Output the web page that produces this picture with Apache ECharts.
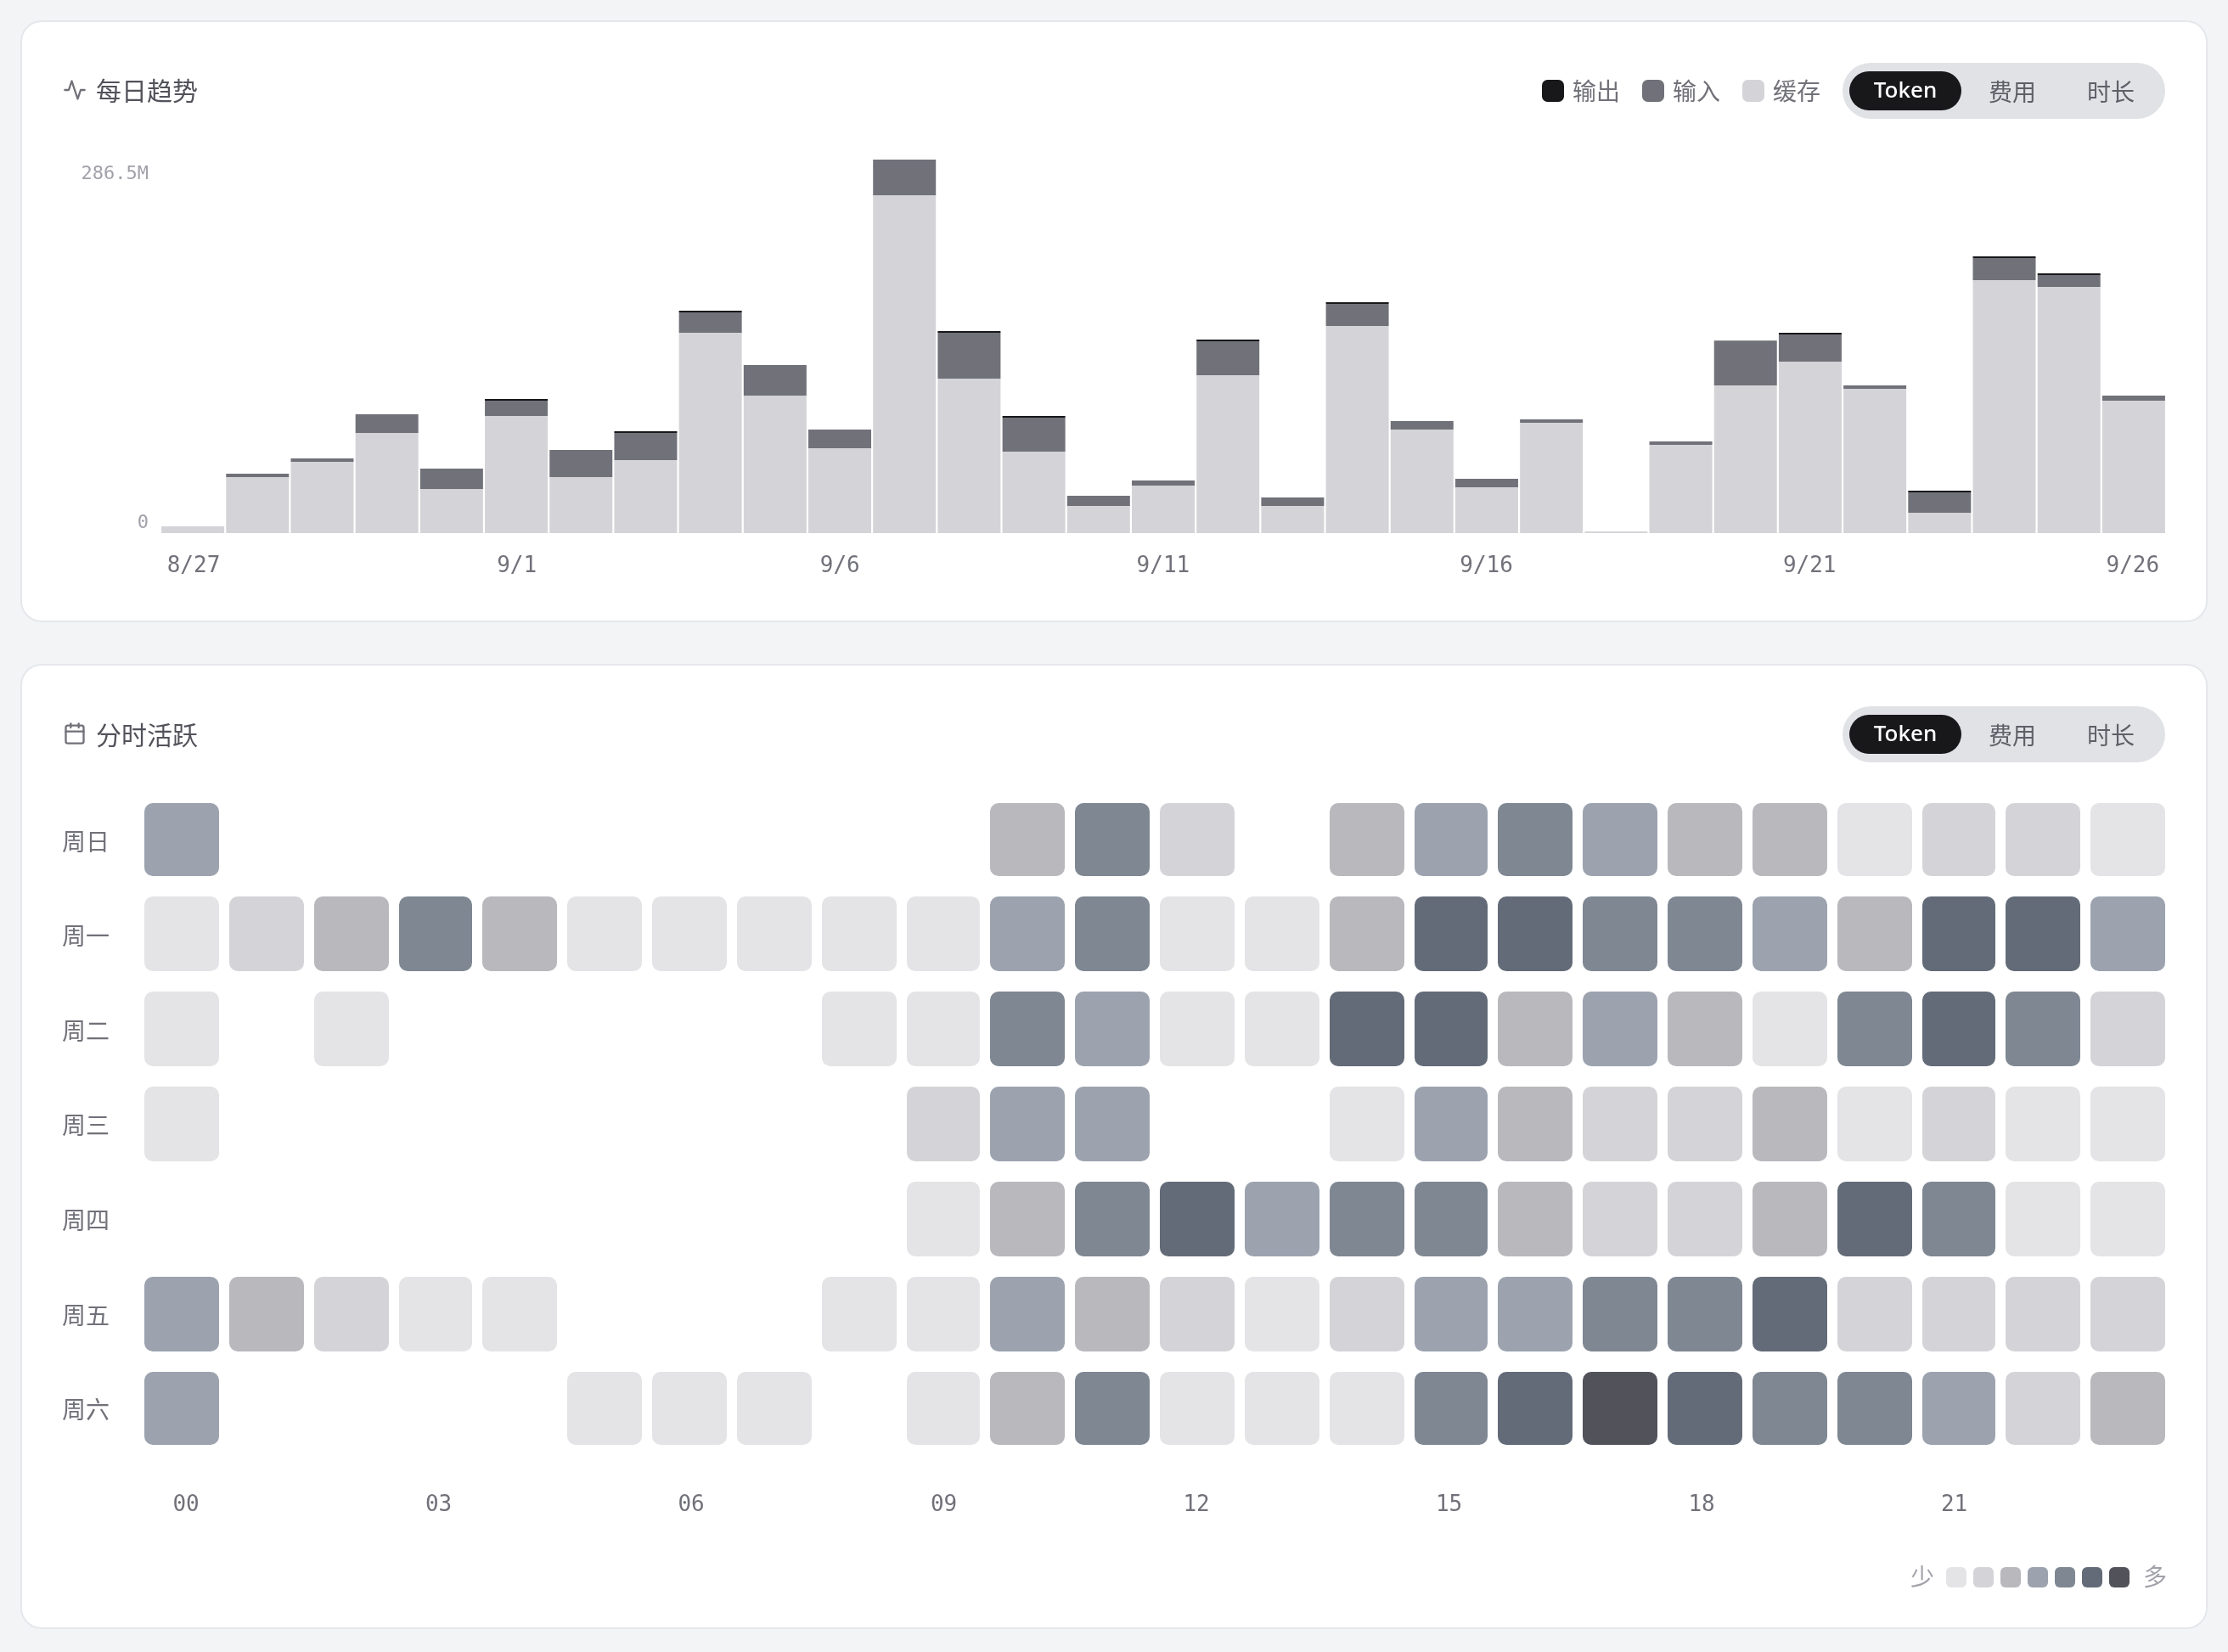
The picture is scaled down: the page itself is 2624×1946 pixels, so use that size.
<!DOCTYPE html>
<html><head><meta charset="utf-8">
<style>html,body{margin:0;padding:0;background:#f3f4f6}#c{width:2624px;height:1946px}</style>
<script src="https://cdn.jsdelivr.net/npm/echarts@6/dist/echarts.min.js"></script>
</head><body><div id="c"></div>
<script>
const dates = ['8/27','8/28','8/29','8/30','8/31','9/1','9/2','9/3','9/4','9/5','9/6','9/7','9/8','9/9','9/10','9/11','9/12','9/13','9/14','9/15','9/16','9/17','9/18','9/19','9/20','9/21','9/22','9/23','9/24','9/25','9/26'];
const cacheM  = [5.2,43.0,54.7,76.8,33.9,89.9,43.0,56.0,153.7,105.5,65.1,259.2,118.5,62.5,20.8,36.5,121.1,20.8,158.9,79.4,35.2,84.6,1.3,67.7,113.3,131.5,110.7,15.6,194.0,188.8,101.6];
const inputM  = [0,2.6,2.6,14.3,15.6,11.7,20.8,20.8,15.6,23.4,14.3,27.3,35.2,26.0,7.8,3.9,26.0,6.5,16.9,6.5,6.5,2.6,0,2.6,33.9,20.8,2.6,15.6,16.9,9.1,3.9];
const outputM = [0,0,0,0,0,1.3,0,1.3,1.3,0,0,0,1.3,1.3,0,0,1.3,0,1.3,0,0,0,0,0,0.3,1.3,0,1.3,1.3,1.3,0];
const yMaxM = 286.5;

const hours = ['00','01','02','03','04','05','06','07','08','09','10','11','12','13','14','15','16','17','18','19','20','21','22','23'];
const days = ['周日','周一','周二','周三','周四','周五','周六'];
const sun = [4,0,0,0,0,0,0,0,0,0,3,5,2,0,3,4,5,4,3,3,1,2,2,1];
const mon = [1,2,3,5,3,1,1,1,1,1,4,5,1,1,3,6,6,5,5,4,3,6,6,4];
const tue = [1,0,1,0,0,0,0,0,1,1,5,4,1,1,6,6,3,4,3,1,5,6,5,2];
const wed = [1,0,0,0,0,0,0,0,0,2,4,4,0,0,1,4,3,2,2,3,1,2,1,1];
const thu = [0,0,0,0,0,0,0,0,0,1,3,5,6,4,5,5,3,2,2,3,6,5,1,1];
const fri = [4,3,2,1,1,0,0,0,1,1,4,3,2,1,2,4,4,5,5,6,2,2,2,2];
const sat = [4,0,0,0,0,1,1,1,0,1,3,5,1,1,1,5,6,7,6,5,5,4,2,3];
const levelColors = ['#e4e4e7','#d4d4d8','#b8b8bd','#9ca3af','#7e8792','#636b78','#52525b'];

const MONO = '"DejaVu Sans Mono", monospace';
const CJK = '"Noto Sans CJK SC", sans-serif';
const heatRows = [sun,mon,tue,wed,thu,fri,sat];
const heatData = [];
heatRows.forEach((row,d)=>row.forEach((v,h)=>{ if(v>0) heatData.push([h,d,v]); }));

function card(y,h){
  return {type:'rect',z:-10,silent:true,shape:{x:25,y:y,width:2574,height:h,r:24},style:{fill:'#fff',stroke:'#e5e7eb',lineWidth:2}};
}
function toggle(dy){
  const t=(text,x,y)=>({type:'text',z:10,silent:true,style:{text,x,y:y+dy,fill:'#5f5f68',font:'28px '+CJK,textAlign:'center',textVerticalAlign:'middle'}});
  return [
    {type:'rect',z:5,silent:true,shape:{x:2170,y:74+dy,width:380,height:66,r:33},style:{fill:'#e1e2e6'}},
    {type:'rect',z:6,silent:true,shape:{x:2178,y:84+dy,width:132,height:46,r:23},style:{fill:'#18181b'}},
    {type:'text',z:10,silent:true,style:{text:'Token',x:2244,y:108+dy,fill:'#fff',font:'500 26px "Noto Sans", sans-serif',textAlign:'center',textVerticalAlign:'middle'}},
    t('费用',2370,108),
    t('时长',2486,108)
  ];
}
function title(text,y){
  return {type:'text',z:10,silent:true,style:{text,x:113,y,fill:'#52525b',font:'30px '+CJK,textAlign:'left',textVerticalAlign:'middle'}};
}
function endText(text,x){
  return {type:'text',z:10,silent:true,style:{text,x,y:1857,fill:'#a1a1aa',font:'28px '+CJK,textAlign:'center',textVerticalAlign:'middle'}};
}
const iconScale=28/24;
const iconStyle={fill:null,stroke:'#71717a',lineWidth:2,lineCap:'round',lineJoin:'round'};
const iconBase=(x,y)=>({z:10,silent:true,x,y,scaleX:iconScale,scaleY:iconScale,style:iconStyle});
const graphics = [
  card(25,707), card(783,1135),
  title('每日趋势',107), title('分时活跃',866),
  endText('少',2264), endText('多',2538),
  Object.assign({type:'polyline',shape:{points:[[22,12],[18,12],[15,21],[9,3],[6,12],[2,12]]}},iconBase(74,92)),
  Object.assign({type:'rect',shape:{x:3,y:4,width:18,height:18,r:2}},iconBase(74,850)),
  Object.assign({type:'line',shape:{x1:16,y1:2,x2:16,y2:6}},iconBase(74,850)),
  Object.assign({type:'line',shape:{x1:8,y1:2,x2:8,y2:6}},iconBase(74,850)),
  Object.assign({type:'line',shape:{x1:3,y1:10,x2:21,y2:10}},iconBase(74,850))
].concat(toggle(0),toggle(758));

const snap=v=>Math.round(v/2)*2;
function renderCell(params,api){
  const c=api.coord([api.value(0),api.value(1)]);
  const d=api.value(1);
  const x0=snap(c[0]-43.85), x1=snap(c[0]+43.85);
  let y0=c[1]-44, y1=c[1]+44;
  if(d===0) y0+=2;
  if(d===days.length-1) y1-=2;
  return {type:'rect',shape:{x:x0,y:y0,width:x1-x0,height:y1-y0,r:10},style:{fill:api.visual('color')}};
}
const barBase={type:'bar',stack:'total',barWidth:74,xAxisIndex:0,yAxisIndex:0,silent:true};
const chart=echarts.init(document.getElementById('c'),null,{renderer:'canvas'});
const hidden={axisLine:{show:false},axisTick:{show:false},axisLabel:{show:false},splitLine:{show:false}};
chart.setOption({
  animation:false,
  backgroundColor:'#f3f4f6',
  textStyle:{fontFamily:CJK},
  graphic:{elements:graphics},
  legend:{left:1816,top:93,padding:0,itemWidth:26,itemHeight:26,itemGap:26,selectedMode:false,icon:'roundRect',
    data:['输出','输入','缓存'],textStyle:{color:'#71717a',fontSize:28,fontFamily:CJK,padding:[2,0,0,5]}},
  grid:[
    {left:189,top:188,width:2362,height:440},
    {left:164.01,top:932,width:2392.32,height:784},
    {left:169.5,top:935.3,width:2380,height:781},
    {left:189.93,top:188,width:2360,height:440}
  ],
  xAxis:[
    Object.assign({type:'category',gridIndex:0,data:dates},hidden),
    Object.assign({type:'category',gridIndex:1,data:hours},hidden),
    {type:'category',gridIndex:2,data:hours,axisLine:{show:false},axisTick:{show:false},
      axisLabel:{interval:2,color:'#71717a',fontSize:26,fontFamily:MONO,margin:44}},
    {type:'category',gridIndex:3,data:dates,axisLine:{show:false},axisTick:{show:false},
      axisLabel:{interval:4,color:'#71717a',fontSize:26,fontFamily:MONO,margin:26}}
  ],
  yAxis:[
    {type:'value',gridIndex:0,min:0,max:yMaxM,interval:yMaxM,splitLine:{show:false},axisLine:{show:false},axisTick:{show:false},
      axisLabel:{color:'#a1a1aa',fontSize:22,fontFamily:MONO,margin:14,padding:[6,0,1,0],verticalAlignMinLabel:'bottom',verticalAlignMaxLabel:'top',
        formatter:v=>v===0?'0':v.toFixed(1)+'M'}},
    Object.assign({type:'category',gridIndex:1,inverse:true,data:days},hidden),
    {type:'category',gridIndex:2,inverse:true,data:days,axisLine:{show:false},axisTick:{show:false},splitLine:{show:false},
      axisLabel:{color:'#71717a',fontSize:28,fontFamily:CJK,align:'left',margin:96.5}},
    {type:'value',gridIndex:3,show:false}
  ],
  visualMap:{type:'piecewise',seriesIndex:3,dimension:2,left:2292,top:1846,padding:0,orient:'horizontal',
    itemWidth:24,itemHeight:24,itemGap:8,showLabel:false,itemSymbol:'roundRect',selectedMode:false,hoverLink:false,
    pieces:levelColors.map((c,i)=>({value:i+1,color:c}))},
  series:[
    Object.assign({name:'缓存',data:cacheM,itemStyle:{color:'#d4d4d8'}},barBase),
    Object.assign({name:'输入',data:inputM,itemStyle:{color:'#71717a'}},barBase),
    Object.assign({name:'输出',data:outputM,itemStyle:{color:'#18181b'}},barBase),
    {type:'custom',xAxisIndex:1,yAxisIndex:1,silent:true,data:heatData,encode:{x:0,y:1},renderItem:renderCell}
  ]
});
</script></body></html>
